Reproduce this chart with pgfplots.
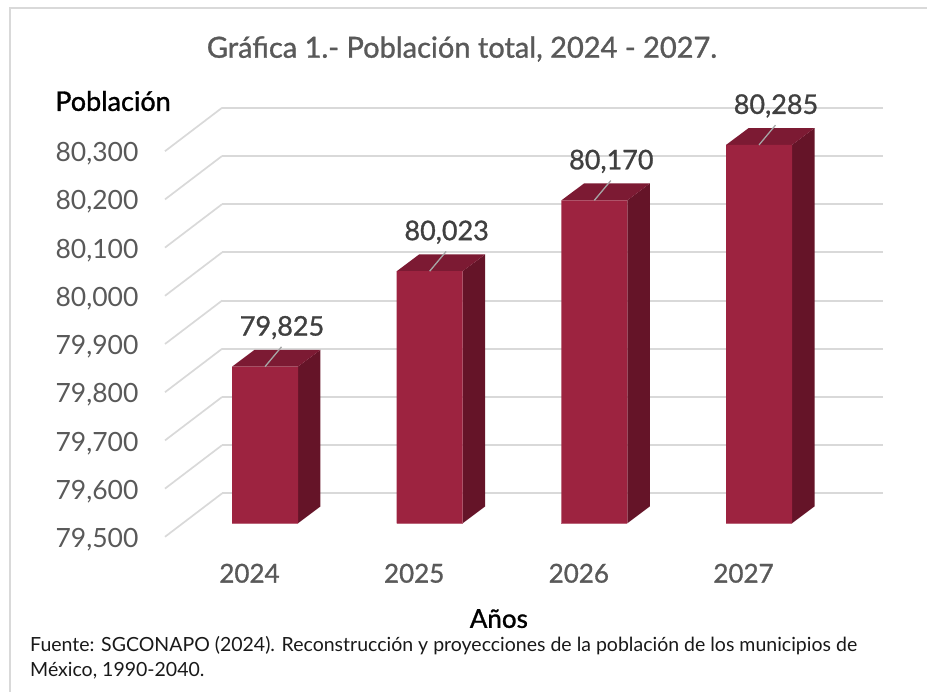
\documentclass[border=0pt]{standalone}
\usepackage{fontspec}
\setmainfont{Lato}
\newfontfamily\med{Lato}[FakeBold=1.1]
\usepackage{pgfplots}
\pgfplotsset{compat=1.18}
\definecolor{guinda}{HTML}{9D2340}
\definecolor{guindatop}{HTML}{7C1A33}
\definecolor{guindaside}{HTML}{651428}
\definecolor{gridgray}{HTML}{D9D9D9}
\definecolor{labelgray}{HTML}{595959}
\definecolor{valuegray}{HTML}{404040}
\begin{document}
\begin{tikzpicture}[x=1pt,y=1pt]
\useasboundingbox (0,0) rectangle (927,-692);
\draw[gridgray,line width=1.5pt] (10,-692) -- (10,-8) -- (927,-8);
\begin{axis}[
    at={(165pt,-523.3pt)},
    anchor=south west,
    scale only axis,
    width=718pt,
    height=415.3pt,
    xmin=2023.3927, xmax=2027.753,
    ymin=79500, ymax=80361.6,
    axis x line*=bottom,
    axis y line*=left,
    x axis line style={draw=none},
    y axis line style={draw=none},
    major tick length=0pt,
    clip=false,
    unbounded coords=jump,
    scaled y ticks=false,
    xtick={2024,2025,2026,2027},
    xticklabels={2024,2025,2026,2027},
    ytick={79500,79600,79700,79800,79900,80000,80100,80200,80300},
    xticklabel style={font=\med\fontsize{26}{30}\selectfont,text=labelgray,anchor=center,xshift=-15.5pt,yshift=-50pt},
    yticklabel style={font=\fontsize{26.5}{30}\selectfont,text=labelgray,anchor=east,xshift=-23pt,yshift=-16.3pt,
        /pgf/number format/1000 sep={,},/pgf/number format/assume math mode=true},
    title={Gráfica 1.- Población total, 2024 - 2027.},
    title style={at={(axis description cs:0.4136,1.1277)},anchor=center,yshift=0pt,font=\med\fontsize{29}{32}\selectfont,text=labelgray},
    xlabel={Años},
    xlabel style={at={(axis description cs:0.465,-0.2295)},anchor=center,font=\med\fontsize{26}{28}\selectfont,text=black},
    ylabel={Población},
    ylabel style={rotate=-90,at={(axis description cs:-0.0724,1.0168)},anchor=center,font=\med\fontsize{27}{28}\selectfont,text=black},
]
% back wall grid and the floor lines going to the front
\addplot[gridgray,line width=2pt] coordinates {
 (2023.739,79562) (2027.753,79562) (2023.739,nan)
 (2023.739,79662) (2027.753,79662) (2023.739,nan)
 (2023.739,79762) (2027.753,79762) (2023.739,nan)
 (2023.739,79862) (2027.753,79862) (2023.739,nan)
 (2023.739,79962) (2027.753,79962) (2023.739,nan)
 (2023.739,80062) (2027.753,80062) (2023.739,nan)
 (2023.739,80162) (2027.753,80162) (2023.739,nan)
 (2023.739,80262) (2027.753,80262) (2023.739,nan)
 (2023.739,80362) (2027.753,80362)};
\addplot[gridgray,line width=1.7pt] coordinates {
 (2023.739,79562) (2023.3927,79472) (2023.739,nan)
 (2023.739,79662) (2023.3927,79572) (2023.739,nan)
 (2023.739,79762) (2023.3927,79672) (2023.739,nan)
 (2023.739,79862) (2023.3927,79772) (2023.739,nan)
 (2023.739,79962) (2023.3927,79872) (2023.739,nan)
 (2023.739,80062) (2023.3927,79972) (2023.739,nan)
 (2023.739,80162) (2023.3927,80072) (2023.739,nan)
 (2023.739,80262) (2023.3927,80172) (2023.739,nan)
 (2023.739,80362) (2023.3927,80272)};
% side faces
\addplot[fill=guindaside,draw=none] coordinates {(2024.2,79500) (2024.337,79535) (2024.337,79860) (2024.2,79825)} -- cycle;
\addplot[fill=guindaside,draw=none] coordinates {(2025.2,79500) (2025.337,79535) (2025.337,80058) (2025.2,80023)} -- cycle;
\addplot[fill=guindaside,draw=none] coordinates {(2026.2,79500) (2026.337,79535) (2026.337,80205) (2026.2,80170)} -- cycle;
\addplot[fill=guindaside,draw=none] coordinates {(2027.2,79500) (2027.337,79535) (2027.337,80320) (2027.2,80285)} -- cycle;
% top faces
\addplot[fill=guindatop,draw=none] coordinates {(2023.8,79825) (2023.937,79860) (2024.337,79860) (2024.2,79825)} -- cycle;
\addplot[fill=guindatop,draw=none] coordinates {(2024.8,80023) (2024.937,80058) (2025.337,80058) (2025.2,80023)} -- cycle;
\addplot[fill=guindatop,draw=none] coordinates {(2025.8,80170) (2025.937,80205) (2026.337,80205) (2026.2,80170)} -- cycle;
\addplot[fill=guindatop,draw=none] coordinates {(2026.8,80285) (2026.937,80320) (2027.337,80320) (2027.2,80285)} -- cycle;
% front faces
\addplot[ybar,bar width=66pt,bar shift=0pt,fill=guinda,draw=none,
    nodes near coords,
    every node near coord/.append style={anchor=center,xshift=17pt,yshift=39pt,
        font=\med\fontsize{27}{30}\selectfont,text=valuegray,
        /pgf/number format/1000 sep={,},/pgf/number format/assume math mode=true},
] coordinates {(2024,79825) (2025,80023) (2026,80170) (2027,80285)};
% leader lines of the data labels
\addplot[color=black!35,line width=1.3pt] coordinates {
 (2024,79825) (2024.1,79866) (2024,nan)
 (2025,80023) (2025.1,80064) (2025,nan)
 (2026,80170) (2026.1,80211) (2026,nan)
 (2027,80285) (2027.1,80326)};
% lighter edge along the foot of the bars
\addplot[color=guinda!70!white,line width=1pt] coordinates {
 (2023.8,79500) (2024.2,79500) (2024,nan)
 (2024.8,79500) (2025.2,79500) (2025,nan)
 (2025.8,79500) (2026.2,79500) (2026,nan)
 (2026.8,79500) (2027.2,79500)};
\end{axis}
\node[anchor=west,inner sep=0pt,font=\fontsize{19.5}{22}\selectfont,text=black!90] at (30,-646) {Fuente: SGCONAPO (2024). Reconstrucción y proyecciones de la población de los municipios de};
\node[anchor=west,inner sep=0pt,font=\fontsize{19.5}{22}\selectfont,text=black!90] at (30,-671) {México, 1990-2040.};
\end{tikzpicture}
\end{document}
